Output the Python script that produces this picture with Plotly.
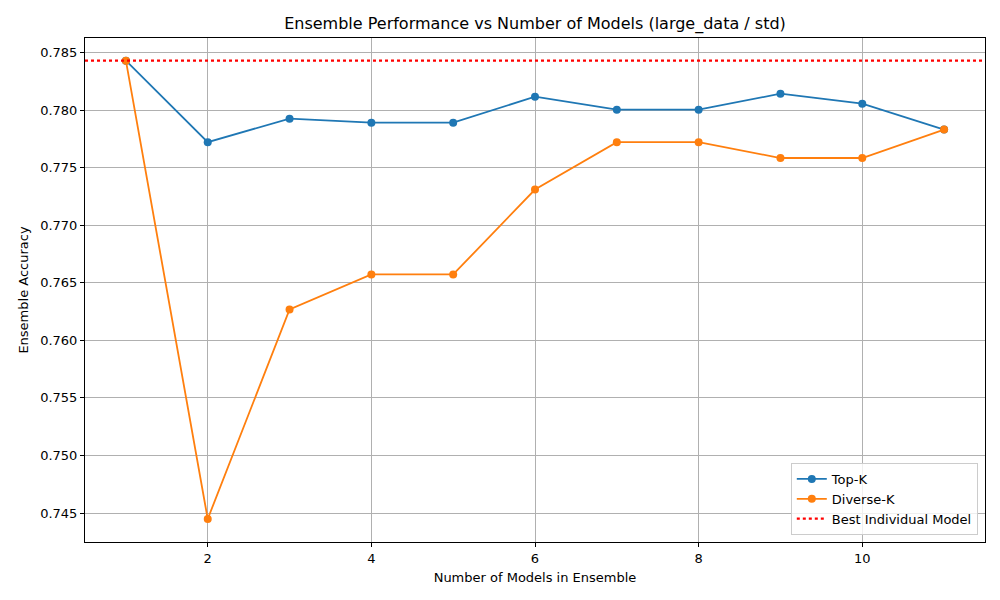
import plotly.graph_objects as go

n_models = [1, 2, 3, 4, 5, 6, 7, 8, 9, 10, 11]
topk_acc = [0.78431, 0.77723, 0.77927, 0.77892, 0.77892, 0.78118, 0.78005, 0.78005, 0.78144, 0.78057, 0.77832]
diversek_acc = [0.78431, 0.74448, 0.76269, 0.76573, 0.76573, 0.77311, 0.77723, 0.77723, 0.77585, 0.77585, 0.77832]
best_individual = 0.78431

fig = go.Figure()
fig.add_trace(go.Scatter(x=n_models, y=topk_acc, mode="lines+markers", name="Top-K",
                         line=dict(color="#1f77b4", width=1.8), marker=dict(size=8, color="#1f77b4")))
fig.add_trace(go.Scatter(x=n_models, y=diversek_acc, mode="lines+markers", name="Diverse-K",
                         line=dict(color="#ff7f0e", width=1.8), marker=dict(size=8, color="#ff7f0e")))
fig.add_trace(go.Scatter(x=[0.5, 11.5], y=[best_individual, best_individual], mode="lines",
                         name="Best Individual Model", line=dict(color="red", width=2.2, dash="dot")))

axis_common = dict(showline=True, linecolor="black", linewidth=1, mirror=True,
                   showgrid=True, gridcolor="#b0b0b0", gridwidth=1, ticks="outside",
                   ticklen=4, tickcolor="black", zeroline=False, automargin=False,
                   tickfont=dict(size=13, color="black"))

fig.update_layout(
    width=1000, height=600,
    paper_bgcolor="white", plot_bgcolor="white",
    font=dict(family="DejaVu Sans", size=13, color="black"),
    margin=dict(l=77, r=23, t=30, b=66, autoexpand=False),
    title=dict(text="Ensemble Performance vs Number of Models (large_data / std)",
               x=0.527, xanchor="center", y=0.975, yanchor="middle",
               font=dict(size=16, color="black"), automargin=False),
    xaxis=dict(range=[0.5, 11.5], tickvals=[2, 4, 6, 8, 10],
               title=dict(text="Number of Models in Ensemble", font=dict(size=13), standoff=8),
               **axis_common),
    yaxis=dict(range=[0.74248, 0.78628], tickvals=[0.745, 0.75, 0.755, 0.76, 0.765, 0.77, 0.775, 0.78, 0.785],
               tickformat=".3f",
               title=dict(text="Ensemble Accuracy", font=dict(size=13), standoff=8),
               **axis_common),
    legend=dict(x=0.992, y=0.014, xanchor="right", yanchor="bottom",
                bgcolor="rgba(255,255,255,0.8)", bordercolor="#cccccc", borderwidth=1,
                font=dict(size=13)),
    showlegend=True,
)

fig.write_html("out.html")
